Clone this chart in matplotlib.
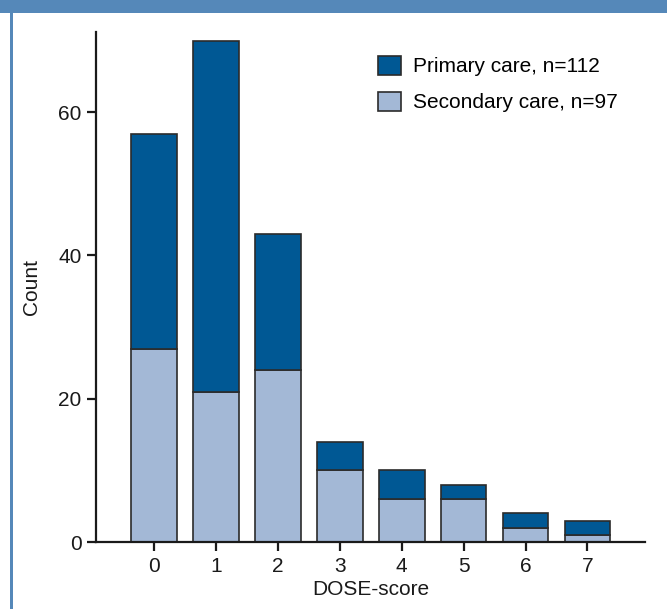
import matplotlib.pyplot as plt
from matplotlib.patches import Rectangle

# DOSE-score counts
scores = [0, 1, 2, 3, 4, 5, 6, 7]
secondary = [27, 21, 24, 10, 6, 6, 2, 1]
primary = [30, 49, 19, 4, 4, 2, 2, 2]
yticks = [0, 20, 40, 60]

primary_col = '#005894'
secondary_col = '#a3b8d6'
edge_col = '#2b2b2b'
frame_col = '#5588b9'

plt.rcParams['font.family'] = ['Liberation Sans', 'DejaVu Sans']
fs = 15

fig = plt.figure(figsize=(6.67, 6.09), dpi=100)
ax = fig.add_axes([96 / 667, 1 - 542 / 609, 549 / 667, 510 / 609])

# Frame around the figure, as in the journal page
fig.patches.append(Rectangle((0, 1 - 13 / 609), 1, 13 / 609, transform=fig.transFigure,
                             facecolor=frame_col, edgecolor='none', zorder=0))
fig.patches.append(Rectangle((10 / 667, 0), 3 / 667, 1 - 13 / 609, transform=fig.transFigure,
                             facecolor=frame_col, edgecolor='none', zorder=0))
# caption of the page above, only its lowest part shows in the band
fig.text(0.02, 1 + 5 / 609, 'Figure 2 Distribution of DOSE-score by type of care, primary and secondary care',
         color='white', fontsize=12, va='baseline', ha='left')

ax.bar(scores, secondary, width=0.74, color=secondary_col, edgecolor=edge_col, linewidth=1.2,
       label='Secondary care, n=97', zorder=2)
ax.bar(scores, primary, bottom=secondary, width=0.74, color=primary_col, edgecolor=edge_col,
       linewidth=1.2, label='Primary care, n=112', zorder=2)

ax.set_xlim(-0.937, 7.93)
ax.set_ylim(0, 71.2)
ax.set_xticks(scores)
ax.set_yticks(yticks)

for s in ['top', 'right']:
    ax.spines[s].set_visible(False)
for s in ['left', 'bottom']:
    ax.spines[s].set_linewidth(1.6)
    ax.spines[s].set_color('#1a1a1a')
    ax.spines[s].set_zorder(3)
ax.tick_params(width=1.6, length=6.5, pad=4, labelsize=fs, color='#1a1a1a', labelcolor='#1a1a1a')

ax.set_xlabel('DOSE-score', fontsize=fs, color='#1a1a1a', labelpad=3)
ax.set_ylabel('Count', fontsize=fs, color='#1a1a1a', labelpad=12)

handles, labels = ax.get_legend_handles_labels()
ax.legend(handles[::-1], labels[::-1], loc='upper left', bbox_to_anchor=(0.499, 0.97),
          borderaxespad=0, frameon=False, fontsize=fs, handlelength=1.1, handleheight=1.05,
          handletextpad=0.58, labelspacing=0.73)

fig.savefig('out.png', dpi=100)
